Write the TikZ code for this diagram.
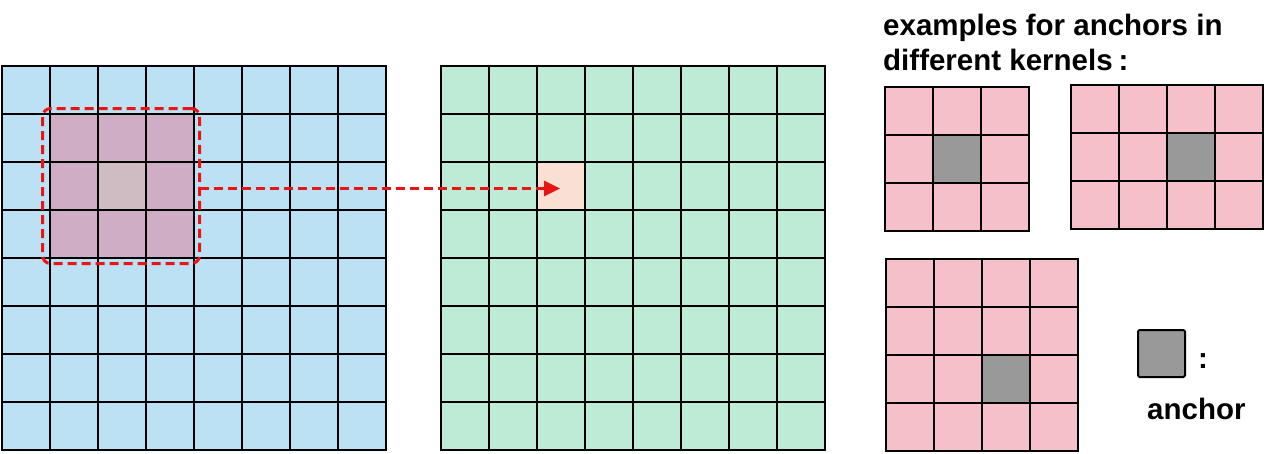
\documentclass[tikz,border=0pt]{standalone}
\usepackage{fontspec}
\setmainfont{Liberation Sans}
\usetikzlibrary{arrows.meta}
\definecolor{cblue}{RGB}{189,225,244}
\definecolor{cgreen}{RGB}{189,235,214}
\definecolor{cpink}{RGB}{246,192,203}
\definecolor{cgray}{RGB}{153,153,153}
\definecolor{chigh}{RGB}{207,173,197}
\definecolor{cctr}{RGB}{207,188,194}
\definecolor{ctgt}{RGB}{249,224,211}
\definecolor{cred}{RGB}{235,20,20}
\tikzset{
  gridline/.style={line width=2.3pt, black, line cap=rect},
  cellbox/.style={rectangle, inner sep=0pt, minimum size=48pt, draw=none},
  redline/.style={draw=cred, line width=3pt, dash pattern=on 9pt off 5pt},
  lbl/.style={font=\bfseries\fontsize{29.5}{35}\selectfont, inner sep=0pt},
}
\newcommand{\kgrid}[4]{% x0, y0, ncols, nrows
  \pgfmathsetmacro{\kxe}{#1+48*#3}
  \pgfmathsetmacro{\kye}{#2+48*#4}
  \foreach \i in {0,...,#3} {\draw[gridline] ({#1+48*\i},#2) -- ({#1+48*\i},\kye);}
  \foreach \j in {0,...,#4} {\draw[gridline] (#1,{#2+48*\j}) -- (\kxe,{#2+48*\j});}
}
\begin{document}
\begin{tikzpicture}[x=1pt,y=-1pt]
\useasboundingbox (0,0) rectangle (1284,453);
% left grid
\fill[cblue] (2,66) rectangle (386,450);
\fill[chigh] (50,114) rectangle (194,258);
\node[cellbox, fill=cctr] (ctr) at (122,186) {};
\kgrid{2}{66}{8}{8}
% middle grid
\fill[cgreen] (441,66) rectangle (825,450);
\node[cellbox, fill=ctgt] (tgt) at (561,186) {};
\kgrid{441}{66}{8}{8}
% window and arrow
\node[redline, rectangle, rounded corners=8pt, minimum width=157pt, minimum height=155pt, inner sep=0pt] (win) at (121,186) {};
\coordinate (tip) at (560,188.5);
\draw[redline, -{Triangle[length=16pt,width=15pt]}, shorten <=-1.5pt] (win.east |- tip) -- (tip);
% kernel 1
\fill[cpink] (885,87) rectangle (1029,231);
\node[cellbox, fill=cgray] (a1) at (957,159) {};
\kgrid{885}{87}{3}{3}
% kernel 2
\fill[cpink] (1071,85) rectangle (1263,229);
\node[cellbox, fill=cgray] (a2) at (1191,157) {};
\kgrid{1071}{85}{4}{3}
% kernel 3
\fill[cpink] (886,259) rectangle (1078,451);
\node[cellbox, fill=cgray] (a3) at (1006,379) {};
\kgrid{886}{259}{4}{4}
% legend
\node[cellbox, fill=cgray, draw=black, line width=2pt, rounded corners=1.5pt, minimum size=47pt] (leg) at (1161.5,353.5) {};
\node[lbl, anchor=center] (legcolon) at (1203,361) {:};
\node[lbl, anchor=base west] (legtxt) at (1147,419) {anchor};
% title
\node[lbl, anchor=base west] (t1) at (883,35) {examples for anchors in};
\node[lbl, anchor=base west] (t2) at (883,70) {different kernels\kern6pt:};
\end{tikzpicture}
\end{document}
